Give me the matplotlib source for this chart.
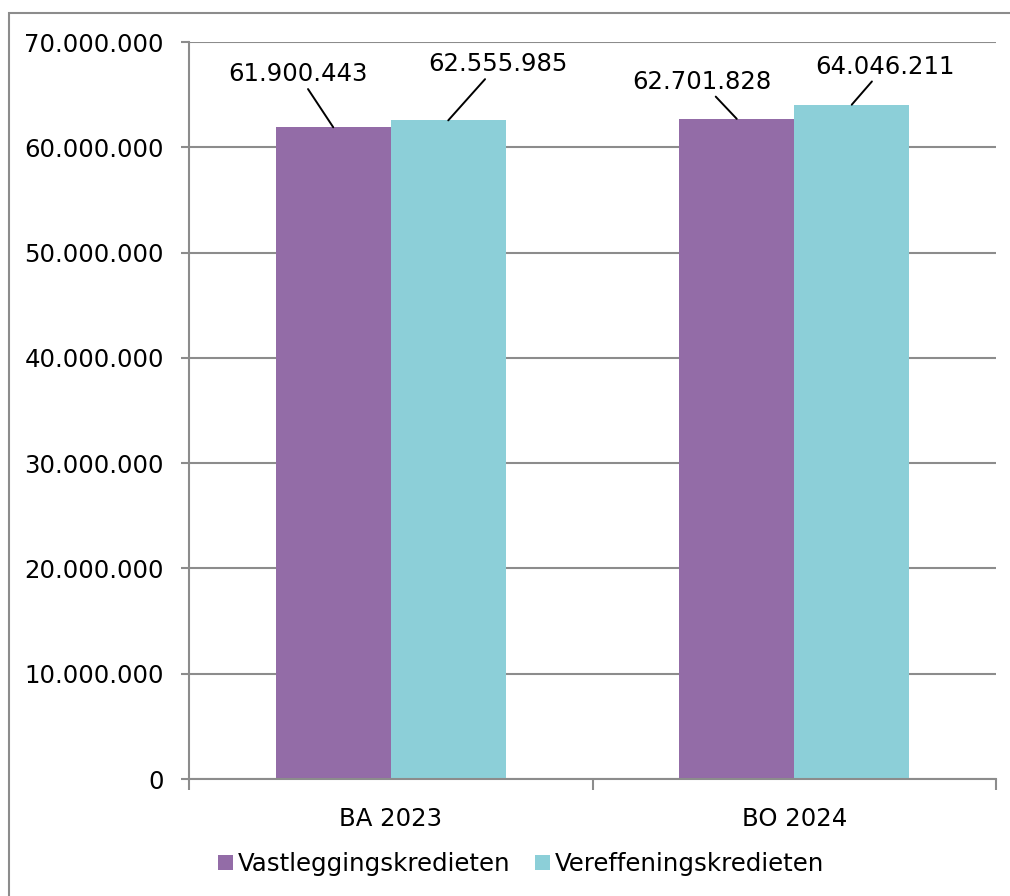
import matplotlib
matplotlib.use("Agg")
import matplotlib.pyplot as plt
import numpy as np
from matplotlib.patches import Rectangle
from matplotlib.ticker import FuncFormatter, FixedLocator

categories = ["BA 2023", "BO 2024"]
series_names = ["Vastleggingskredieten", "Vereffeningskredieten"]
vastlegging = [61900443, 62701828]
vereffening = [62555985, 64046211]
colors = ["#936CA7", "#8CCFD8"]

# label offsets (pixels) from the top of each bar
label_offsets = [[(-35, 53), (-35, 37)], [(50, 56), (33, 38)]]


def dotted(v):
    return f"{v:,.0f}".replace(",", ".")


plt.rcParams["font.family"] = ["DejaVu Sans"]
fs = 17.6
grid_col = "#8C8C8C"

fig = plt.figure(figsize=(10.1, 8.96), dpi=100)
ax = fig.add_axes([189 / 1010, 1 - 779 / 896, (996 - 189) / 1010, (779 - 42) / 896])

x = np.arange(len(categories))
w = 0.285
series = [vastlegging, vereffening]
for i, vals in enumerate(series):
    xs = x + (i - 0.5) * w
    ax.bar(xs, vals, width=w, color=colors[i], label=series_names[i], zorder=3)
    for j, (xx, v) in enumerate(zip(xs, vals)):
        ax.annotate(dotted(v), xy=(xx, v), xytext=label_offsets[i][j],
                    textcoords="offset pixels", ha="center", va="center",
                    fontsize=fs, color="black", zorder=5,
                    arrowprops=dict(arrowstyle="-", color="black", lw=1.4,
                                    shrinkA=0, shrinkB=0))

ax.set_ylim(0, 70000000)
ax.set_xlim(-0.5, len(categories) - 0.5)
ax.yaxis.set_major_locator(FixedLocator(np.arange(0, 70000001, 10000000)))
ax.yaxis.set_major_formatter(FuncFormatter(lambda v, p: dotted(v)))
ax.yaxis.grid(True, color=grid_col, lw=1.5, zorder=1)

ax.set_xticks(x)
ax.set_xticklabels(categories)
ax.set_xticks(np.arange(-0.5, len(categories)), minor=True)
ax.tick_params(axis="x", which="major", length=0, pad=20, labelsize=fs)
ax.tick_params(axis="x", which="minor", length=8, width=1.5, color=grid_col)
ax.tick_params(axis="y", length=6, width=1.5, color=grid_col, pad=12, labelsize=fs)

for s in ["top", "right"]:
    ax.spines[s].set_visible(False)
for s in ["left", "bottom"]:
    ax.spines[s].set_color(grid_col)
    ax.spines[s].set_linewidth(1.5)
    ax.spines[s].set_zorder(4)

fig.legend(loc="center", bbox_to_anchor=(521 / 1010, 1 - 864 / 896), ncol=2,
           frameon=False, fontsize=fs, handlelength=0.6, handleheight=0.6,
           handletextpad=0.2, columnspacing=1.0)

# chart border, running off the right and bottom edges
fig.add_artist(Rectangle((9 / 1010, -0.1), 1.2, 1 - 13 / 896 + 0.1,
                         transform=fig.transFigure, fill=False,
                         edgecolor=grid_col, lw=1.5))

fig.savefig("out.png", dpi=100)
